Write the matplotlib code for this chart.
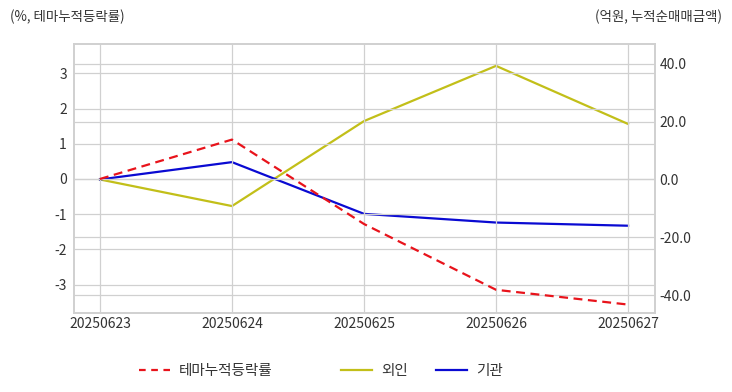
import matplotlib
matplotlib.use("Agg")
import matplotlib.pyplot as plt
from matplotlib.lines import Line2D

plt.rcParams['font.family'] = ['Noto Sans CJK KR', 'DejaVu Sans']

dates = ["20250623", "20250624", "20250625", "20250626", "20250627"]
theme_rate = [0.0, 1.12, -1.28, -3.15, -3.57]
foreign = [0.0, -9.2, 20.2, 39.3, 19.2]
institution = [0.0, 6.0, -11.9, -14.9, -16.0]

left_ticks = [-3, -2, -1, 0, 1, 2, 3]
right_ticks = [-40, -20, 0, 20, 40]

RED = "#e8131b"
YEL = "#c2bf19"
BLU = "#0a0ad2"
GRID = "#d0d0d0"
TXT = "#333333"

fig = plt.figure(figsize=(7.32, 3.92), dpi=100)
ax = fig.add_axes([0.101, 0.2015, 0.794, 0.6865])
ax2 = ax.twinx()

x = list(range(len(dates)))
ax.plot(x, theme_rate, color=RED, linestyle=(0, (4, 2.5)), linewidth=1.6, zorder=3)
ax2.plot(x, foreign, color=YEL, linewidth=1.6)
ax2.plot(x, institution, color=BLU, linewidth=1.6)

ax.set_xlim(-0.197, 4.205)
ax.set_ylim(-3.81, 3.84)
ax2.set_ylim(-46.2, 46.9)

ax.set_xticks(x)
ax.set_xticklabels(dates)
ax.set_yticks(left_ticks)
ax.set_yticklabels([str(v) for v in left_ticks])
ax2.set_yticks(right_ticks)
ax2.set_yticklabels([f"{v:.1f}" for v in right_ticks])

for a in (ax, ax2):
    a.tick_params(length=0, labelsize=10, colors=TXT, pad=5)
    for s in a.spines.values():
        s.set_color(GRID)
        s.set_linewidth(1.2)
ax.tick_params(axis='x', pad=3)
ax2.tick_params(axis='y', pad=3)

ax.grid(True, color=GRID, linewidth=0.9)
ax2.grid(True, axis='y', color=GRID, linewidth=0.9)
ax.set_axisbelow(True)
ax2.set_axisbelow(True)
ax.set_zorder(ax2.get_zorder() + 1)
ax.patch.set_visible(False)

fig.text(0.013, 0.958, "(%, 테마누적등락률)", fontsize=9.7, color=TXT, ha='left', va='center')
fig.text(0.987, 0.958, "(억원, 누적순매매금액)", fontsize=9.7, color=TXT, ha='right', va='center')

handles = [
    Line2D([], [], color=RED, linestyle=(0, (3, 2.5)), linewidth=1.6),
    Line2D([], [], color=YEL, linewidth=1.6),
    Line2D([], [], color=BLU, linewidth=1.6),
]
labels = ["테마누적등락률", "외인", "기관"]
x_pos = [139, 341, 436]
for h, lab, xp in zip(handles, labels, x_pos):
    leg = fig.legend([h], [lab], loc='center left', bbox_to_anchor=(xp / 732, 1 - 371 / 392),
                     frameon=False, fontsize=10.5, handlelength=2.1,
                     handletextpad=0.65, borderaxespad=0, borderpad=0)
    for t in leg.get_texts():
        t.set_color(TXT)

fig.savefig("out.png", dpi=100, facecolor="white")
